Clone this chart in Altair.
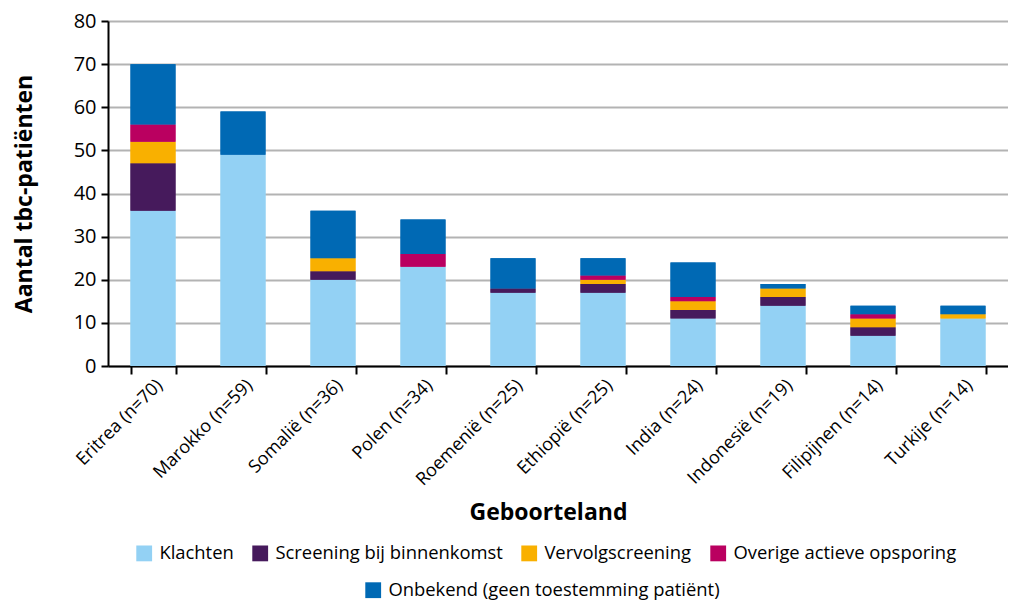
import altair as alt
import pandas as pd

countries = ["Eritrea (n=70)", "Marokko (n=59)", "Somalië (n=36)", "Polen (n=34)",
             "Roemenië (n=25)", "Ethiopië (n=25)", "India (n=24)", "Indonesië (n=19)",
             "Filipijnen (n=14)", "Turkije (n=14)"]
series = ["Klachten", "Screening bij binnenkomst", "Vervolgscreening",
          "Overige actieve opsporing", "Onbekend (geen toestemming patiënt)"]
colors = ["#93D1F4", "#461A5C", "#F9B000", "#BA0060", "#0069B4"]

klachten = [36, 49, 20, 23, 17, 17, 11, 14, 7, 11]
screening = [11, 0, 2, 0, 1, 2, 2, 2, 2, 0]
vervolg = [5, 0, 3, 0, 0, 1, 2, 2, 2, 1]
overige = [4, 0, 0, 3, 0, 1, 1, 0, 1, 0]
onbekend = [14, 10, 11, 8, 7, 4, 8, 1, 2, 2]

values = [klachten, screening, vervolg, overige, onbekend]
rows = []
for si, (s, vals) in enumerate(zip(series, values)):
    for c, v in zip(countries, vals):
        rows.append({"land": c, "reden": s, "aantal": v, "volgorde": si})
df = pd.DataFrame(rows)

FONT = "Open Sans"

def bars(legend):
    return alt.Chart(df).mark_bar(stroke=None).encode(
        x=alt.X("land:N", sort=countries,
                scale=alt.Scale(paddingInner=0.5, paddingOuter=0.25),
                axis=alt.Axis(title="Geboorteland", labelAngle=-45, labelFontSize=18,
                              labelFont=FONT, labelColor="#000", labelLimit=0,
                              titleFont=FONT, titleFontSize=23, titleFontWeight="bold",
                              titleColor="#000", titlePadding=13, titleX=440,
                              tickBand="extent",
                              tickSize=8, tickColor="#000", tickWidth=2,
                              domainColor="#000", domainWidth=2, labelPadding=2,
                              grid=False)),
        y=alt.Y("aantal:Q", stack="zero",
                scale=alt.Scale(domain=[0, 80], nice=False),
                axis=alt.Axis(title="Aantal tbc-patiënten", values=list(range(0, 81, 10)),
                              labelFontSize=20, labelFont=FONT, labelColor="#000",
                              titleFont=FONT, titleFontSize=23, titleFontWeight="bold",
                              titleColor="#000", titlePadding=37, tickSize=7,
                              tickColor="#000", tickWidth=2, domainColor="#000",
                              domainWidth=2, gridColor="#B3B3B3", gridWidth=2,
                              labelPadding=5)),
        color=alt.Color("reden:N", scale=alt.Scale(domain=series, range=colors),
                        legend=legend),
        order=alt.Order("volgorde:Q"),
    )

common = dict(title=None, orient="none", direction="horizontal", symbolType="square",
              symbolSize=250, symbolStrokeWidth=0, labelFontSize=18.4, labelFont=FONT,
              labelColor="#000", labelLimit=0, labelOffset=6, columnPadding=17)
leg1 = alt.Legend(values=series[:4], legendX=27, legendY=523, **common)
leg2 = alt.Legend(values=series[4:], legendX=256, legendY=560, **common)

chart = alt.layer(bars(leg1), bars(leg2)).resolve_scale(color="shared").resolve_legend(
    color="independent"
).properties(width=900, height=345, padding={"left": 5, "top": 3, "right": 0, "bottom": 0}
).configure_view(stroke=None).configure(background="white")

chart.save("out.html", embed_options={"renderer": "svg", "actions": False})
